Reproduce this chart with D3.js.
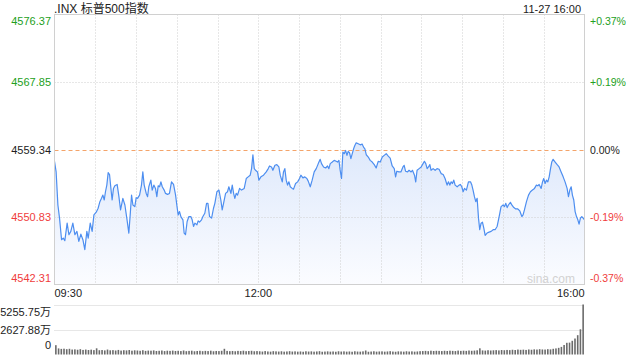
<!DOCTYPE html>
<html>
<head>
<meta charset="utf-8">
<script src="https://cdn.jsdelivr.net/npm/d3@7"></script>
<style>
  body { margin: 0; background: #fff; }
  svg { display: block; font-family: "Liberation Sans", Arial, "Noto Sans CJK SC", sans-serif; }
</style>
</head>
<body>
<svg id="chart" width="640" height="360"></svg>
<script>
const title = '.INX 标普500指数';
const stamp = '11-27 16:00';
const prevClose = 4559.34;
const priceTicks = [4576.37, 4567.85, 4559.34, 4550.83, 4542.31];
const pctTicks = ['+0.37%', '+0.19%', '0.00%', '-0.19%', '-0.37%'];
const timeLabels = [['09:30', 0], ['12:00', 150], ['16:00', 390]];
const volMax = 5255.75;
const volLabels = ['5255.75万', '2627.88万', '0'];

// minutes after 09:30
const minutes = [
  0, 1.2, 2.5, 3.7, 5.2, 6.4, 7.6, 9.3, 10.6, 12.0, 13.5, 15.0, 16.5, 17.9, 19.4, 20.9, 22.3, 23.8, 24.8, 26.3,
  27.7, 29.0, 30.7, 32.1, 33.4, 34.6, 35.6, 36.6, 37.5, 38.5, 39.5, 40.5, 41.5, 42.4, 43.4, 44.4, 46.1, 47.4, 48.6, 50.3,
  51.8, 53.2, 54.7, 55.7, 56.7, 57.7, 59.1, 60.1, 61.1, 62.6, 64.0, 65.0, 66.0, 67.5, 68.5, 69.4, 70.9, 71.9, 73.1, 74.3,
  75.3, 76.3, 77.3, 78.3, 79.3, 80.7, 81.7, 83.2, 84.6, 86.1, 87.6, 89.1, 90.0, 91.0, 92.0, 93.0, 94.5, 95.4, 96.4, 97.6,
  98.9, 100.3, 101.3, 102.3, 103.3, 104.8, 105.7, 106.7, 108.2, 109.2, 110.6, 111.9, 112.9, 114.1, 115.6, 117.0, 118.0, 119.5, 121.0, 122.4,
  123.4, 124.4, 125.9, 127.3, 128.3, 129.8, 130.8,
  131.8, 132.7, 133.7, 134.7, 136.2, 137.6, 139.6, 141.1, 142.5, 144.0, 145.0, 146.0, 147.0, 147.9, 149.4, 150.4, 151.9, 153.8, 155.8, 157.3,
  158.2, 159.7, 160.7, 162.2, 163.6, 165.1, 166.1, 167.6, 168.5, 169.5, 170.5, 171.5, 172.5, 173.5, 174.9, 175.9, 177.4, 178.9, 180.3, 181.3,
  182.8, 184.2, 185.7, 186.7, 188.2, 189.6, 191.1, 192.6, 194.1, 195.5, 196.5, 198.0, 199.5, 200.9, 201.9, 202.9, 204.4, 205.8, 207.3, 208.3,
  209.3, 210.2, 211.2, 212.2, 213.2, 214.2, 215.2, 216.1, 217.1, 218.1, 219.1, 220.1, 221.0, 222.0, 223.5, 225.0, 226.4, 227.4, 228.4, 229.4,
  230.9, 232.3, 233.8, 235.3, 236.7, 238.2, 239.7, 241.2, 242.6, 244.1, 245.6, 247.0, 248.5, 250.0, 251.0, 251.9, 253.4, 254.9, 256.4, 257.3,
  258.3, 259.8,
  260.9, 262.4, 263.4, 264.9, 265.8, 266.8, 268.3, 269.8, 271.2, 272.2, 273.2, 274.2, 275.2, 276.2, 277.1, 278.6, 280.1, 281.5, 283.0, 284.5,
  286.0, 287.4, 288.9, 289.9, 290.9, 291.9, 292.8, 293.8, 294.8, 296.3, 297.7, 298.7, 299.7, 300.7, 301.7, 303.1, 304.6, 306.1, 307.1, 308.0,
  309.0, 310.0, 311.0, 312.0, 312.9, 313.9, 314.9, 315.9, 316.9, 318.3, 319.8, 321.3, 322.8, 324.2, 325.7, 326.7, 327.7, 328.6, 330.1, 331.1,
  332.1, 333.1, 334.0, 335.5, 336.5, 338.0, 339.4, 340.9, 342.4, 343.9, 344.8, 345.8, 347.3, 348.8, 350.2, 351.7, 353.2, 354.6, 355.6, 356.6,
  358.1, 359.1, 360.0, 361.0, 362.0, 363.0, 364.0, 365.0, 365.9, 366.9, 368.4, 369.9, 371.3, 372.8, 374.3, 375.7, 377.2, 378.2, 379.2, 380.2,
  381.1, 382.1, 383.1, 384.1, 385.1, 386.0, 387.0, 388.0, 389.0, 390.0
];

const prices = [
  4557.85, 4556.51, 4552.34, 4550.68, 4547.96, 4548.17, 4547.84, 4550.05, 4548.59, 4549.01,
  4550.05, 4548.59, 4549.01, 4547.76, 4548.67, 4547.96, 4546.71, 4549.01, 4548.17, 4550.05,
  4549.01, 4551.09, 4551.43, 4551.93, 4552.76, 4553.18, 4553.59, 4552.97, 4554.01, 4554.85,
  4556.43, 4556.18, 4554.43, 4552.97, 4554.43, 4554.76, 4554.93, 4553.39, 4551.72, 4553.18,
  4552.34, 4550.68, 4548.80, 4551.09, 4553.59, 4552.34, 4552.13, 4553.26, 4553.18, 4553.59,
  4554.85, 4556.51, 4554.85, 4553.80, 4553.39, 4554.64, 4555.47, 4554.22, 4554.85, 4554.43,
  4553.39, 4554.76, 4554.64, 4555.26, 4554.64, 4554.22, 4553.80, 4553.68, 4553.80, 4555.26,
  4554.93, 4553.59, 4552.34, 4551.09, 4551.51, 4550.88, 4550.47, 4548.80, 4548.59, 4550.26,
  4550.88, 4550.88, 4550.47, 4549.63, 4550.05, 4549.84, 4550.34, 4550.17, 4550.47, 4550.88,
  4551.30, 4552.55, 4552.55, 4550.88, 4550.68, 4551.93, 4552.55, 4554.01, 4554.22, 4552.97,
  4551.72, 4552.55, 4553.80, 4554.01, 4554.64, 4553.80, 4554.85,
  4553.80, 4553.18, 4553.80, 4553.59, 4554.43, 4554.22, 4554.43, 4555.68, 4555.89, 4556.10,
  4556.93, 4558.68, 4556.93, 4556.72, 4556.51, 4555.47, 4555.89, 4556.10, 4556.51, 4556.93,
  4557.26, 4557.14, 4556.72, 4557.35, 4557.43, 4557.14, 4556.10, 4555.26, 4556.51, 4556.93,
  4555.47, 4554.85, 4555.26, 4554.64, 4554.43, 4554.34, 4555.05, 4555.26, 4555.68, 4556.10,
  4555.76, 4555.89, 4555.68, 4555.35, 4554.64, 4555.47, 4556.51, 4556.93, 4557.56, 4558.10,
  4557.56, 4557.14, 4557.01, 4557.26, 4556.93, 4557.56, 4557.76, 4557.97, 4557.85, 4557.76,
  4557.97, 4556.72, 4555.68, 4559.02, 4558.81, 4559.22, 4558.60, 4559.10, 4558.93, 4558.18,
  4558.81, 4559.43, 4559.85, 4560.18, 4560.06, 4559.93, 4560.02, 4559.64, 4559.43, 4558.68,
  4558.39, 4557.97, 4557.76, 4557.43, 4557.01, 4557.85, 4557.76, 4558.39, 4558.60, 4558.81,
  4558.51, 4558.26, 4557.26, 4556.93, 4555.89, 4556.60, 4556.51, 4556.51, 4557.14, 4557.35,
  4556.60, 4556.51,
  4556.72, 4556.51, 4556.72, 4556.10, 4555.26, 4556.72, 4556.93, 4557.14, 4557.56, 4557.85,
  4557.56, 4556.93, 4557.14, 4557.43, 4556.72, 4556.93, 4556.72, 4556.93, 4556.85, 4556.30,
  4556.18, 4555.68, 4554.85, 4555.26, 4554.85, 4555.26, 4555.05, 4555.47, 4554.85, 4554.64,
  4554.85, 4554.93, 4554.64, 4554.01, 4554.43, 4554.22, 4555.26, 4555.26, 4554.85, 4554.22,
  4553.39, 4552.76, 4553.18, 4550.68, 4549.22, 4550.05, 4550.17, 4549.42, 4548.51, 4548.80,
  4548.92, 4549.01, 4549.22, 4549.22, 4549.63, 4550.47, 4551.30, 4552.13, 4552.34, 4552.13,
  4552.55, 4552.01, 4552.34, 4552.68, 4552.34, 4552.01, 4551.84, 4551.84, 4551.59, 4550.88,
  4551.09, 4551.72, 4552.76, 4553.59, 4554.01, 4554.22, 4554.43, 4554.85, 4554.76, 4554.93,
  4554.43, 4555.26, 4555.68, 4555.05, 4555.47, 4555.26, 4555.89, 4556.93, 4557.76, 4558.10,
  4557.76, 4557.43, 4557.14, 4556.51, 4555.89, 4555.26, 4554.43, 4553.39, 4554.22, 4554.64,
  4553.59, 4552.97, 4551.51, 4550.88, 4550.47, 4549.93, 4550.68, 4550.88, 4550.68, 4550.47
];

// volume (万), one bar per 2 minutes
const volumes = [
  980, 640, 590, 610, 560, 600, 520, 540, 500, 560, 480, 520, 470, 510, 460,
  650, 450, 470, 430, 520, 440, 460, 420, 480, 410, 450, 430, 470, 400, 440,
  420, 390, 450, 380, 410, 400, 430, 370, 390, 420, 360, 400, 380, 410, 370,
  390, 360, 420, 350, 380, 400, 340, 370, 390, 350, 380, 360, 400, 340, 370,
  360, 390, 600, 380, 350, 370, 340, 380, 360, 400, 350, 370, 390, 340, 360,
  340, 310, 360, 320, 300, 350, 330, 310, 340, 300, 320, 350, 310, 330, 300,
  320, 290, 340, 310, 330, 300, 320, 350, 290, 310, 330, 300, 320, 290, 340,
  310, 330, 300, 320, 290, 340, 310, 300, 330, 420, 290, 310, 340, 300, 320,
  330, 300, 320, 350, 310, 290, 330, 320, 300, 340, 310, 330, 300, 320, 350,
  360, 380, 350, 400, 370, 390, 380, 360, 390, 370, 400, 380, 360, 410, 380,
  400, 380, 420, 390, 410, 440, 650, 430, 410, 450, 420, 440, 460, 430, 470,
  450, 480, 460, 500, 470, 520, 490, 510, 480, 530, 500, 540, 520, 560, 530,
  520, 560, 540, 600, 640, 700, 800, 1000, 1230, 1250, 1440, 1680, 2030, 2650, 5255.75
];

const svg = d3.select('#chart');
const plot = {left: 54.5, right: 584.5, top: 14.5, bottom: 284.5};
const vol = {top: 304.5, bottom: 354.5};
const green = '#22a022', red = '#f03c3c', grid = '#cfcfcf';

const x = d3.scaleLinear().domain([0, 390]).range([plot.left, plot.right]);
const y = d3.scaleLinear().domain([priceTicks[4], priceTicks[0]]).range([plot.bottom, plot.top]);
const yVol = d3.scaleLinear().domain([0, volMax]).range([vol.bottom, vol.top]);

const series = minutes.map((m, i) => ({m: m, p: prices[i]}));

// gradient for the area
const grad = svg.append('defs').append('linearGradient')
    .attr('id', 'fillGrad')
    .attr('x1', 0).attr('y1', 0).attr('x2', 0).attr('y2', 1);
grad.append('stop').attr('offset', '0%').attr('stop-color', '#dde8fb');
grad.append('stop').attr('offset', '100%').attr('stop-color', '#fbfcff');

// area + line
svg.append('path')
    .datum(series)
    .attr('fill', 'url(#fillGrad)')
    .attr('d', d3.area().x(d => x(d.m)).y0(plot.bottom).y1(d => y(d.p)));

// vertical grid every half hour
svg.append('g')
    .selectAll('line')
    .data(d3.range(30, 390, 30))
    .join('line')
    .attr('x1', d => Math.round(x(d)) + 0.5).attr('x2', d => Math.round(x(d)) + 0.5)
    .attr('y1', plot.top).attr('y2', plot.bottom)
    .attr('stroke', grid).attr('stroke-dasharray', '1,2');

// horizontal grid
svg.append('g')
    .selectAll('line')
    .data(priceTicks.slice(1, 4))
    .join('line')
    .attr('x1', plot.left).attr('x2', plot.right)
    .attr('y1', d => Math.round(y(d)) + 0.5).attr('y2', d => Math.round(y(d)) + 0.5)
    .attr('stroke', d => d === prevClose ? '#f4a46a' : grid)
    .attr('stroke-dasharray', d => d === prevClose ? '4,3' : '1,2');

svg.append('path')
    .datum(series)
    .attr('fill', 'none')
    .attr('stroke', '#4d8ef0')
    .attr('stroke-width', 1.2)
    .attr('stroke-linejoin', 'round')
    .attr('d', d3.line().x(d => x(d.m)).y(d => y(d.p)));

// plot frame
svg.append('rect')
    .attr('x', plot.left).attr('y', plot.top)
    .attr('width', plot.right - plot.left).attr('height', plot.bottom - plot.top)
    .attr('fill', 'none').attr('stroke', '#d0d0d0');

// watermark
svg.append('text')
    .attr('x', 575).attr('y', 283)
    .attr('text-anchor', 'end')
    .attr('font-size', 12)
    .attr('fill', '#d2d2d2')
    .text('sina.com');

// price labels (left) and percent labels (right)
const colorOf = d => d > prevClose ? green : (d < prevClose ? red : '#222');
const labelY = (d, i) => i === 0 ? y(d) + 10 : (i === 4 ? y(d) - 3 : y(d) + 4);

svg.append('g')
    .selectAll('text')
    .data(priceTicks)
    .join('text')
    .attr('x', 51).attr('y', labelY)
    .attr('text-anchor', 'end')
    .attr('font-size', 11)
    .attr('fill', colorOf)
    .text(d => d.toFixed(2));

svg.append('g')
    .selectAll('text')
    .data(priceTicks)
    .join('text')
    .attr('x', 590).attr('y', labelY)
    .attr('font-size', 10.5)
    .attr('fill', colorOf)
    .text((d, i) => pctTicks[i]);

// title and stamp
svg.append('text')
    .attr('x', 54).attr('y', 12.5)
    .attr('font-size', 12).attr('fill', '#222')
    .text(title);
svg.append('text')
    .attr('x', 581).attr('y', 12.5)
    .attr('text-anchor', 'end')
    .attr('font-size', 11).attr('fill', '#222')
    .text(stamp);

// time labels
svg.append('g')
    .selectAll('text')
    .data(timeLabels)
    .join('text')
    .attr('x', (d, i) => i === 0 ? x(d[1]) : (i === 2 ? x(d[1]) : x(d[1])))
    .attr('y', 297)
    .attr('text-anchor', (d, i) => i === 0 ? 'start' : (i === 2 ? 'end' : 'middle'))
    .attr('font-size', 11).attr('fill', '#222')
    .text(d => d[0]);

// volume grid
svg.append('g')
    .selectAll('line')
    .data([volMax, volMax / 2])
    .join('line')
    .attr('x1', plot.left).attr('x2', plot.right)
    .attr('y1', d => Math.round(yVol(d)) + 0.5).attr('y2', d => Math.round(yVol(d)) + 0.5)
    .attr('stroke', grid).attr('stroke-dasharray', '1,1');

// volume bars
svg.append('g')
    .selectAll('rect')
    .data(volumes)
    .join('rect')
    .attr('x', (d, i) => x(i * 2 + 1) - 0.8)
    .attr('width', 1.6)
    .attr('y', d => yVol(d))
    .attr('height', d => vol.bottom - yVol(d))
    .attr('fill', '#6b6b6b');

// volume labels
svg.append('g')
    .selectAll('text')
    .data([volMax, volMax / 2, 0])
    .join('text')
    .attr('x', 51)
    .attr('y', (d, i) => i === 0 ? yVol(d) + 11 : (i === 2 ? yVol(d) - 6 : yVol(d) + 4))
    .attr('text-anchor', 'end')
    .attr('font-size', 11).attr('fill', '#222')
    .text((d, i) => volLabels[i]);
</script>
</body>
</html>
